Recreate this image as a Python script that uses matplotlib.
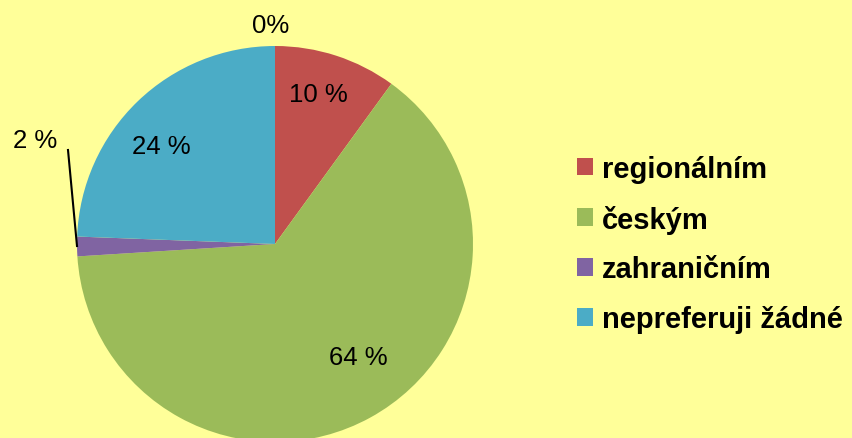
import matplotlib
matplotlib.use("Agg")
import matplotlib.pyplot as plt
from matplotlib.lines import Line2D

categories = ["regionálním", "českým", "zahraničním", "nepreferuji žádné"]
values = [10, 64, 1.6, 24.4]
pct_labels = ["10 %", "64 %", "2 %", "24 %"]
extra_label = "0%"

colors = ["#C0504D", "#9BBB59", "#8064A2", "#4BACC6"]
bg = "#FFFF99"

plt.rcParams['font.family'] = ['Liberation Sans', 'DejaVu Sans']

W, H = 852, 439
fig = plt.figure(figsize=(W / 100, H / 100), dpi=100, facecolor=bg)
ax = fig.add_axes([0, 0, 1, 1])
ax.set_facecolor(bg)

cx, cy, R = 275, 245, 198  # pixel geometry (from top-left)


def px(x, y):
    return (x - cx) / R, (cy - y) / R


wedges, _ = ax.pie(values, colors=colors, startangle=90, counterclock=False,
                   radius=1.0, wedgeprops=dict(linewidth=0))

ax.set_xlim(-cx / R, (W - cx) / R)
ax.set_ylim(-(H - cy) / R, cy / R)
ax.set_aspect('auto')
ax.axis('off')

label_pos = [(318, 95), (358, 358), (35, 141), (161, 147)]
for txt, (x, y) in zip(pct_labels, label_pos):
    ax.text(*px(x, y), txt, ha='center', va='center', fontsize=18.5, color='black')
ax.text(*px(271, 26), extra_label, ha='center', va='center', fontsize=18.5, color='black')

# leader line for small slice
x0, y0 = px(68, 151)
x1, y1 = px(77, 247)
ax.add_line(Line2D([x0, x1], [y0, y1], color='black', lw=1.5))

leg = fig.legend(wedges, categories, loc='center left',
                 bbox_to_anchor=(577 / W, 1 - 245 / H),
                 frameon=False, prop=dict(weight='bold', size=21),
                 handlelength=0.55, handleheight=0.55, handletextpad=0.3,
                 labelspacing=0.75, borderpad=0, borderaxespad=0)

fig.savefig("out.png", dpi=100, facecolor=bg)
